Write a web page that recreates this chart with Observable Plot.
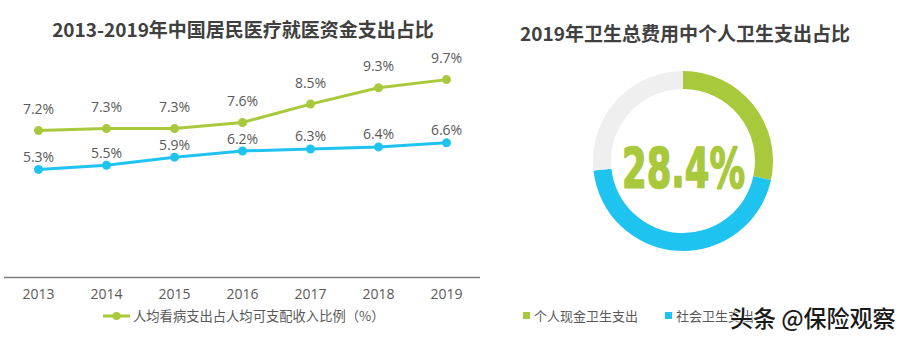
<!DOCTYPE html>
<html><head><meta charset="utf-8">
<script src="https://cdn.jsdelivr.net/npm/d3@7"></script>
<script src="https://cdn.jsdelivr.net/npm/@observablehq/plot@0.6"></script>
<style>
body{margin:0;background:#fff;}
#wrap{position:relative;width:906px;height:340px;overflow:hidden;font-family:"Noto Sans CJK SC",sans-serif;background:#fff;}
.abs{position:absolute;white-space:nowrap;}
.title{font-weight:bold;font-size:19px;color:#404040;line-height:19px;text-align:center;}
.leg{font-size:13px;color:#595959;line-height:13px;display:flex;align-items:center;}
.sq{display:inline-block;width:7px;height:7px;margin-right:4px;}
</style></head><body><div id="wrap"></div>
<script>
// ---- data ----
const years = [2013, 2014, 2015, 2016, 2017, 2018, 2019];
const seriesGreen = [7.2, 7.3, 7.3, 7.6, 8.5, 9.3, 9.7];
const seriesBlue = [5.3, 5.5, 5.9, 6.2, 6.3, 6.4, 6.6];
const seriesNames = ["人均看病支出占人均可支配收入比例（%）", "系列2"];
const shareCats = ["个人现金卫生支出", "社会卫生支出", "政府卫生支出"];
const shareValues = [28.4, 44.9, 26.7];
const leftTitle = "2013-2019年中国居民医疗就医资金支出占比";
const rightTitle = "2019年卫生总费用中个人卫生支出占比";
const watermark = "头条 @保险观察";

const GREEN = "#a9c93c", BLUE = "#1fc3ef", GREY = "#efefef";

const wrap = document.getElementById("wrap");

// ---- left line chart ----
const rowsG = years.map((yr, i) => ({year: yr, v: seriesGreen[i], s: seriesNames[0]}));
const rowsB = years.map((yr, i) => ({year: yr, v: seriesBlue[i], s: seriesNames[1]}));
const rows = rowsG.concat(rowsB);

const left = Plot.plot({
  width: 490, height: 340,
  marginLeft: 4, marginRight: 10, marginTop: 73, marginBottom: 63,
  x: {type: "point", domain: years, range: [38, 446], padding: 0, align: 0.5, tickSize: 0, tickPadding: 12, label: null, tickFormat: d => String(d)},
  y: {domain: [0, 10], axis: null},
  color: {domain: seriesNames, range: [GREEN, BLUE]},
  style: {fontFamily: "'Open Sans', sans-serif", fontSize: "14px", color: "#595959", background: "transparent"},
  marks: [
    Plot.ruleY([0], {stroke: "#7f7f7f", strokeWidth: 1.5}),
    Plot.line(rows, {x: "year", y: "v", z: "s", stroke: "s", strokeWidth: 3}),
    Plot.dot(rows, {x: "year", y: "v", fill: "s", r: 4.5}),
    Plot.text(rowsG, {x: "year", y: "v", text: d => d.v.toFixed(1) + "%", dy: -21, fill: "#595959", fontSize: 14}),
    Plot.text(rowsB, {x: "year", y: "v", text: d => d.v.toFixed(1) + "%", dy: -12, fill: "#595959", fontSize: 14})
  ]
});
left.style.position = "absolute"; left.style.left = "0px"; left.style.top = "0px";
wrap.appendChild(left);

// ---- right donut ----
const shareRows = shareCats.map((c, i) => ({c, v: shareValues[i]}));
const shareColor = d3.scaleOrdinal(shareCats, [GREEN, BLUE, GREY]);
function donutMark(index, scales, values, dims) {
  const {width, height, marginLeft, marginRight, marginTop, marginBottom} = dims;
  const cx = marginLeft + (width - marginLeft - marginRight) / 2;
  const cy = marginTop + (height - marginTop - marginBottom) / 2;
  const g = d3.create("svg:g").attr("transform", `translate(${cx},${cy})`);
  const arcs = d3.pie().sort(null).value(d => d.v)(shareRows);
  const arc = d3.arc().innerRadius(72).outerRadius(90);
  g.selectAll("path").data(arcs).join("path").attr("d", arc).attr("fill", d => (scales && scales.color ? scales.color(d.data.c) : shareColor(d.data.c)));
  return g.node();
}
const right = Plot.plot({
  width: 416, height: 340,
  marginLeft: 0, marginTop: 0, marginRight: 30, marginBottom: 18,
  style: {background: "transparent"},
  marks: [
    donutMark,
    Plot.text([shareValues[0]], {frameAnchor: "middle", text: d => d.toFixed(1) + "%", fill: GREEN, stroke: GREEN, strokeWidth: 1.6, fontSize: 56, fontWeight: "bold", fontFamily: "'Liberation Sans Narrow', 'DejaVu Sans Condensed', 'DejaVu Sans', sans-serif", dy: 8})
  ]
});
right.style.position = "absolute"; right.style.left = "490px"; right.style.top = "0px";
wrap.appendChild(right);
d3.select(right).selectAll("text").filter(function() { return this.textContent.includes("%"); })
  .attr("textLength", 123).attr("lengthAdjust", "spacingAndGlyphs");

// ---- HTML titles & legends ----
function div(cls, css, html) { const d = document.createElement("div"); d.className = "abs " + cls; d.style.cssText = css; d.innerHTML = html; wrap.appendChild(d); return d; }
div("title", "left:0px;width:486px;top:19px;", leftTitle);
div("title", "left:490px;width:390px;top:23px;", rightTitle);
div("leg", "left:103px;top:309px;font-size:13.3px;",
  `<svg width="27" height="10" style="margin-right:3px"><line x1="0" x2="27" y1="5" y2="5" stroke="${GREEN}" stroke-width="3"/><circle cx="13.5" cy="5" r="4" fill="${GREEN}"/></svg>${seriesNames[0]}`);
div("leg", "left:523px;top:309px;", `<span class="sq" style="background:${shareColor(shareCats[0])}"></span>${shareCats[0]}`);
div("leg", "left:665px;top:309px;", `<span class="sq" style="background:${shareColor(shareCats[1])}"></span>${shareCats[1]}`);
div("", "left:730px;top:305px;font-size:23px;line-height:24px;color:#1a1a1a;font-weight:500;text-shadow:0 0 2px #fff,0 0 2px #fff,0 0 3px #fff;", watermark);
</script></body></html>
